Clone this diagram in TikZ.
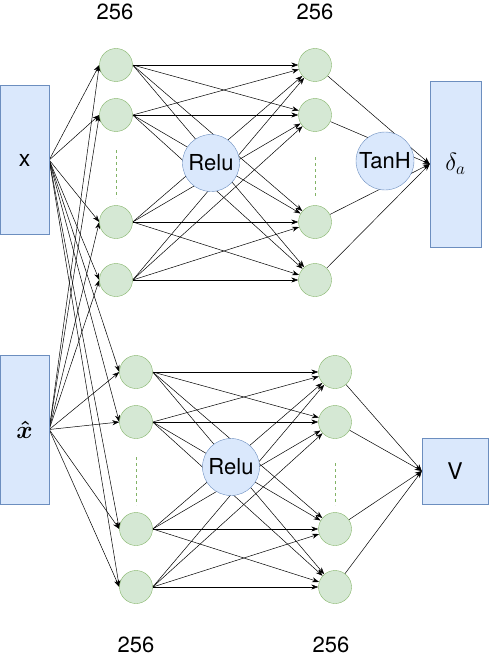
\documentclass[tikz,border=0pt]{standalone}
\usepackage{amsmath,amssymb}
\usepackage{fontspec}
\setmainfont{TeX Gyre Heros}
\usetikzlibrary{arrows.meta,positioning,backgrounds}
\definecolor{unitgreen}{HTML}{D5E8D4}
\definecolor{unitline}{HTML}{82B366}
\definecolor{boxblue}{HTML}{DAE8FC}
\definecolor{boxline}{HTML}{6C8EBF}
\tikzset{
  unit/.style={circle, draw=unitline, fill=unitgreen, minimum size=33pt, inner sep=0pt},
  actfn/.style={circle, draw=boxline, fill=boxblue, minimum size=57pt, inner sep=0pt,
                font=\fontsize{22}{24}\selectfont},
  iobox/.style={rectangle, draw=boxline, fill=boxblue, inner sep=0pt,
                font=\fontsize{23}{26}\selectfont},
  mathbox/.style={iobox, font=\fontsize{26}{28}\selectfont},
  layersize/.style={font=\fontsize{22}{24}\selectfont},
  dotsline/.style={draw=unitline, dashed, line width=0.5pt},
  arrow/.style={-{Stealth[length=7pt,width=5pt]}, line width=0.5pt, black},
}

\begin{document}
\begin{tikzpicture}[x=1pt, y=-1pt]
\useasboundingbox (0,0) rectangle (490,658);
% inputs and outputs
\node[iobox, minimum width=49pt, minimum height=149pt] (inx) at (24.5,160) {x};
\node[mathbox, minimum width=49pt, minimum height=149pt] (inxh) at (24.5,429.5) {$\boldsymbol{\hat{x}}$};
\node[mathbox, minimum width=51pt, minimum height=166pt] (outd) at (455.5,164) {$\delta_a$};
\node[iobox, minimum width=66pt, minimum height=66pt] (outv) at (455,471) {V};

% hidden layers
\foreach \n/\y in {1/65,2/115,3/222,4/280} {
  \node[unit] (a\n) at (116,\y) {};
  \node[unit] (b\n) at (315,\y) {};
}
\foreach \n/\y in {1/372,2/422,3/529,4/587} {
  \node[unit] (c\n) at (136,\y) {};
  \node[unit] (d\n) at (335,\y) {};
}
\node[actfn] (relua) at (211,163) {Relu};
\node[actfn, minimum size=58pt] (tanh) at (385,161) {TanH};
\node[actfn] (relub) at (231,467) {Relu};

\node[layersize] (sa) at (115,12) {256};
\node[layersize] (sb) at (315,12) {256};
\node[layersize] (sc) at (136,645) {256};
\node[layersize] (sd) at (331,645) {256};

\draw[dotsline] (116,150) -- (116,198);
\draw[dotsline] (315,157) -- (315,198);
\draw[dotsline] (136,457) -- (136,505);
\draw[dotsline] (335,463) -- (335,505);

\begin{scope}[on background layer]
\foreach \s in {inx,inxh}
  \foreach \t in {a1,a2,a3,a4,c1,c2,c3,c4}
    \draw[arrow] (\s.east) -- (\t.west);
\foreach \i in {1,...,4}
  \foreach \j in {1,...,4} {
    \draw[arrow] (a\i.east) -- (b\j);
    \draw[arrow] (c\i.east) -- (d\j);
  }
\foreach \i in {1,...,4} {
  \draw[arrow] (b\i) -- (outd.west);
  \draw[arrow] (d\i) -- (outv.west);
}
\end{scope}
\end{tikzpicture}
\end{document}
